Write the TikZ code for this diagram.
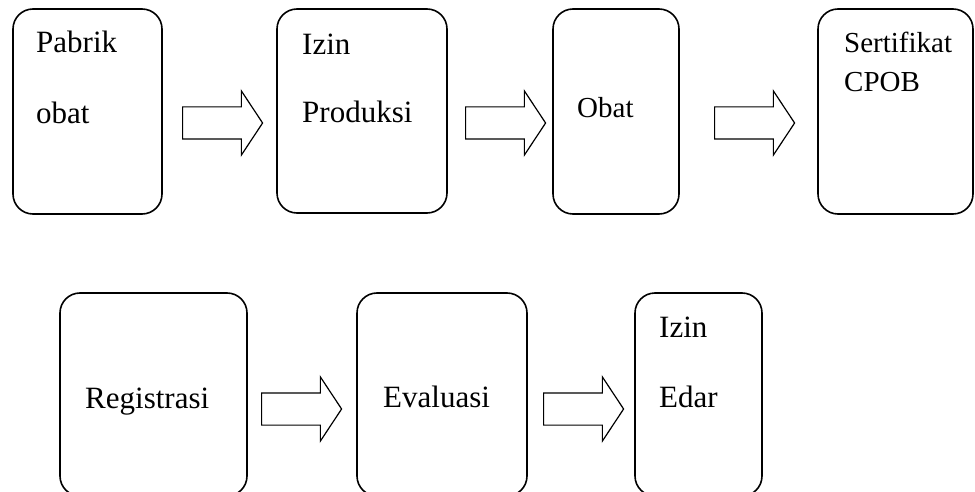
\documentclass[tikz,border=0pt]{standalone}
\usepackage{fontspec}
\setmainfont{Liberation Serif}
\usepackage{tikz}
\usetikzlibrary{positioning,shapes.arrows}
\tikzset{%
  stage/.style={draw,rounded corners=20pt,line width=1.6pt,inner sep=0pt},
  flow/.style={draw,single arrow,anchor=tail,line width=1.2pt,inner xsep=0pt,inner ysep=15.5pt,
    single arrow head extend=16pt,single arrow tip angle=113,minimum height=80pt},
  txt/.style={inner sep=0pt,anchor=base west,font=\fontsize{31}{31}\selectfont},
  smalltxt/.style={txt,font=\fontsize{29}{29}\selectfont},
}

\begin{document}
\begin{tikzpicture}[x=1pt,y=-1pt]
      \useasboundingbox (0,0) rectangle (975,492);

      % first row
      \node[stage,minimum width=149pt,minimum height=205pt] (pabrik) at (87.5,111.5) {};
      \node[stage,minimum width=170pt,minimum height=204pt] (izinprod) at (362,111) {};
      \node[stage,minimum width=126pt,minimum height=205pt] (obat) at (616,111.5) {};
      \node[stage,minimum width=155pt,minimum height=205pt] (cpob) at (895.5,111.5) {};

      \node[txt] (pabrikA) at (36,53) {Pabrik};
      \node[txt] (pabrikB) at (36,124) {obat};
      \node[txt] (izinprodA) at (302,55) {Izin};
      \node[txt] (izinprodB) at (302,123) {Produksi};
      \node[smalltxt] (obatA) at (577,118) {Obat};
      \node[smalltxt] (cpobA) at (844,53) {Sertifikat};
      \node[smalltxt] (cpobB) at (844,92) {CPOB};

      \node[flow] (arrA) at (182,123) {};
      \node[flow] (arrB) at (465,123) {};
      \node[flow] (arrC) at (714,123) {};

      % second row
      \node[stage,minimum width=187pt,minimum height=203pt] (registrasi) at (153.5,394.5) {};
      \node[stage,minimum width=170pt,minimum height=203pt] (evaluasi) at (442,394.5) {};
      \node[stage,minimum width=127pt,minimum height=203pt] (izinedar) at (698.5,394.5) {};

      \node[txt] (registrasiA) at (85,408) {Registrasi};
      \node[txt] (evaluasiA) at (383,407) {Evaluasi};
      \node[txt] (izinedarA) at (659,337) {Izin};
      \node[txt] (izinedarB) at (659,407) {Edar};

      \node[flow] (arrD) at (261,409) {};
      \node[flow] (arrE) at (543,409) {};
    \end{tikzpicture}
\end{document}
